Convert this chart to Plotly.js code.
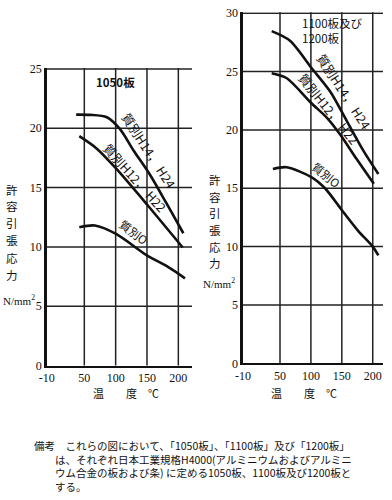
<!DOCTYPE html>
<html>
<head>
<meta charset="utf-8">
<script src="https://cdn.plot.ly/plotly-3.0.1.min.js"></script>
<style>
  html, body { margin: 0; padding: 0; background: #fff; }
  #chart { width: 392px; height: 500px; }
</style>
</head>
<body>
<div id="chart"></div>
<script>
// ---- data ----
const tempTicks = [-10, 50, 100, 150, 200];
const stressTicksL = [0, 5, 10, 15, 20, 25];
const stressTicksR = [0, 5, 10, 15, 20, 25, 30];

// 1050板
const t1050_H14 = [37, 59, 86, 107, 128, 155, 181, 208];
const s1050_H14 = [21.15, 21.13, 20.93, 19.92, 18.17, 16.06, 13.68, 11.15];
const t1050_H12 = [42, 70, 100.6, 151, 207];
const s1050_H12 = [19.33, 18.28, 16.61, 13.51, 9.95];
const t1050_O = [42, 67, 100.6, 151, 181, 210.6];
const s1050_O = [11.66, 11.8, 11.09, 9.24, 8.39, 7.35];

// 1100板及び1200板
const t1100_H14 = [36.6, 66.2, 101.3, 130.9, 157.9, 184.8, 209.1];
const s1100_H14 = [28.47, 27.65, 25.29, 23.31, 20.78, 18.23, 16.23];
const t1100_H12 = [36.6, 61, 100, 125.6, 147, 174, 201.8];
const s1100_H12 = [24.86, 24.43, 22.33, 21.06, 19.63, 17.5, 15.38];
const t1100_O = [38.5, 60.8, 101.3, 122.8, 149.8, 176.7, 200, 209.1];
const s1100_O = [16.66, 16.8, 15.94, 15, 13.14, 11.33, 10, 9.25];

const labelH14 = '質別H14， H24';
const labelH12 = '質別H12， H22';
const labelO = '質別O';
const yTitleChars = ['許', '容', '引', '張', '応', '力'];
const yUnit = 'N/mm<sup>2</sup>';
const xTitle = '温　　度　℃';
const noteLines = [
  '備考　これらの図において、「1050板」、「1100板」及び「1200板」',
  '　　は、それぞれ日本工業規格H4000(アルミニウムおよびアルミニ',
  '　　ウム合金の板および条) に定める1050板、1100板及び1200板と',
  '　　する。'
];

// ---- styles ----
const CJK = '"Noto Sans CJK JP", "Noto Sans", sans-serif';
const SERIF = '"Liberation Serif", "DejaVu Serif", serif';
const INK = '#111';

function curve(x, y, xa, ya) {
  return {
    x: x, y: y, xaxis: xa, yaxis: ya, type: 'scatter', mode: 'lines',
    line: { color: INK, width: 2.6, shape: 'spline', smoothing: 0.8 },
    hoverinfo: 'skip', showlegend: false
  };
}

const data = [
  curve(t1050_H14, s1050_H14, 'x', 'y'),
  curve(t1050_H12, s1050_H12, 'x', 'y'),
  curve(t1050_O, s1050_O, 'x', 'y'),
  curve(t1100_H14, s1100_H14, 'x2', 'y2'),
  curve(t1100_H12, s1100_H12, 'x2', 'y2'),
  curve(t1100_O, s1100_O, 'x2', 'y2')
];

const W = 392, H = 500;
function xaxisDef(domain, range) {
  return {
    domain: domain, range: range, tickmode: 'array', tickvals: tempTicks, ticktext: tempTicks.map(String),
    showgrid: false, zeroline: false,
    showline: true, linecolor: INK, linewidth: 2,
    ticks: '', tickfont: { family: SERIF, size: 12, color: INK },
    fixedrange: true
  };
}
function yaxisDef(domain, range, ticks, anchor) {
  return {
    domain: domain, range: range, tickmode: 'array', tickvals: ticks, ticktext: ticks.map(String),
    showgrid: false, zeroline: false,
    showline: true, linecolor: INK, linewidth: 2.5,
    ticks: '', tickfont: { family: SERIF, size: 12, color: INK },
    anchor: anchor, fixedrange: true
  };
}

// grid lines drawn from the tick arrays (axis furniture)
const GRIDLINE = { color: '#222', width: 1.5 };
const shapes = [];
function addGrid(xa, ya, xt, yt) {
  xt.filter(v => v !== xt[0]).forEach(v => shapes.push({
    type: 'line', layer: 'below', xref: xa, yref: ya + ' domain',
    x0: v, x1: v, y0: 0, y1: 1, line: GRIDLINE
  }));
  yt.filter(v => v !== yt[0]).forEach(v => shapes.push({
    type: 'line', layer: 'below', xref: xa + ' domain', yref: ya,
    x0: 0, x1: 1, y0: v, y1: v, line: GRIDLINE
  }));
}
addGrid('x', 'y', tempTicks, stressTicksL);
addGrid('x2', 'y2', tempTicks, stressTicksR);

const annotations = [];
function pxNote(text, x, y, opts) {
  annotations.push(Object.assign({
    text: text, xref: 'paper', yref: 'paper', x: x / W, y: 1 - y / H,
    showarrow: false, font: { family: CJK, size: 11, color: INK },
    xanchor: 'center', yanchor: 'middle'
  }, opts || {}));
}
function dataNote(text, xa, ya, x, y, angle, size) {
  annotations.push({
    text: text, xref: xa, yref: ya, x: x, y: y, showarrow: false,
    textangle: angle, font: { family: CJK, size: size || 12.5, color: INK },
    xanchor: 'center', yanchor: 'middle'
  });
}

// left chart labels
dataNote('<b>1050板</b>', 'x', 'y', 99, 23.9, 0, 11.5);
dataNote(labelH14, 'x', 'y', 153.4, 18.13, 57);
dataNote(labelH12, 'x', 'y', 131, 15.85, 48);
dataNote(labelO, 'x', 'y', 129, 11.25, 37, 11.5);
// right chart labels
annotations.push({
  text: '1100板及び<br>1200板', xref: 'x2', yref: 'y2', x: 82.4, y: 28.5,
  showarrow: false, align: 'left', xanchor: 'left', yanchor: 'middle',
  font: { family: CJK, size: 11.5, color: INK }
});
dataNote(labelH14, 'x2', 'y2', 154, 23.3, 57);
dataNote(labelH12, 'x2', 'y2', 129, 21.85, 51);
dataNote(labelO, 'x2', 'y2', 125, 16.1, 39, 11.5);

// y titles (vertical characters)
const leftCharY = [190, 206, 223, 240, 258, 275];
const rightCharY = [180, 197, 213, 230, 247, 263];
yTitleChars.forEach((c, i) => {
  pxNote(c, 12, leftCharY[i], { font: { family: CJK, size: 11.5, color: INK } });
  pxNote(c, 215, rightCharY[i], { font: { family: CJK, size: 11.5, color: INK } });
});
pxNote(yUnit, 1, 300, { xanchor: 'left', font: { family: SERIF, size: 11, color: INK } });
pxNote(yUnit, 201, 283, { xanchor: 'left', font: { family: SERIF, size: 11, color: INK } });

// x titles
pxNote(xTitle, 126, 393, { font: { family: CJK, size: 11, color: INK } });
pxNote(xTitle, 304, 393, { font: { family: CJK, size: 11, color: INK } });

// footnote (one block, hanging indent)
pxNote(noteLines.join('<br>'), 32, 466, {
  xanchor: 'left', align: 'left', font: { family: CJK, size: 10.5, color: INK }
});

const layout = {
  width: W, height: H,
  margin: { l: 0, r: 0, t: 0, b: 0 },
  paper_bgcolor: '#fff', plot_bgcolor: '#fff',
  showlegend: false,
  xaxis: Object.assign(xaxisDef([46.7 / W, 192 / W], [-10, 221.8]), { anchor: 'y' }),
  yaxis: yaxisDef([1 - 365.5 / H, 1 - 68 / H], [0, 25.08], stressTicksL, 'x'),
  xaxis2: Object.assign(xaxisDef([242.9 / W, 383 / W], [-10, 216.6]), { anchor: 'y2' }),
  yaxis2: yaxisDef([1 - 363.3 / H, 1 - 12.3 / H], [0, 30.08], stressTicksR, 'x2'),
  shapes: shapes,
  annotations: annotations
};

Plotly.newPlot('chart', data, layout, { staticPlot: true, displayModeBar: false });
</script>
</body>
</html>
